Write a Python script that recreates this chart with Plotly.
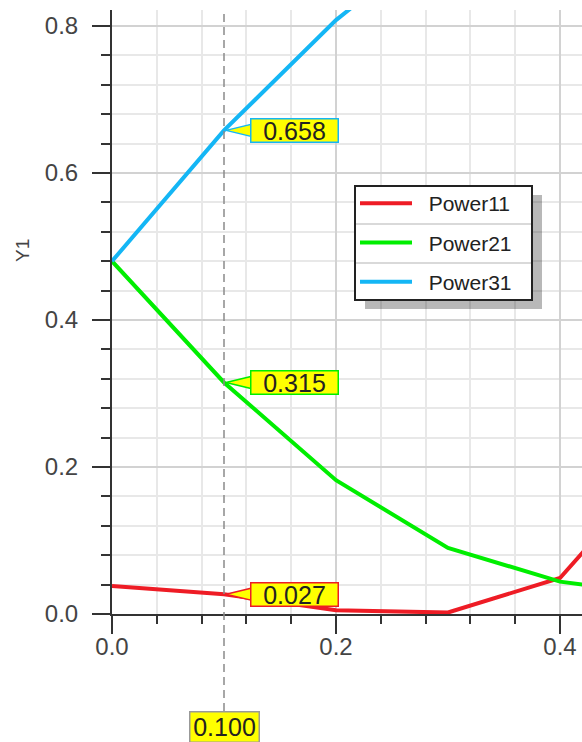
import numpy as np
import plotly.graph_objects as go

# ---- data ----
x_vals = [0.0, 0.1, 0.2, 0.3, 0.4, 0.5]
power11 = [0.038, 0.027, 0.005, 0.002, 0.049, 0.22]
power21 = [0.480, 0.315, 0.182, 0.090, 0.044, 0.025]
power31 = [0.480, 0.658, 0.808, 0.930, 1.030, 1.120]
series_names = ["Power11", "Power21", "Power31"]
cross_x = 0.1
x_ticks = [0.0, 0.2, 0.4]
y_ticks = [0.0, 0.2, 0.4, 0.6, 0.8]

colors = ["#ee1c25", "#00ee00", "#14b6f5"]
series = [power11, power21, power31]

W, H = 582, 742
# plot area in screen pixels
PX0, PX1, PY0, PY1 = 112, 582, 10, 614
ML, MT = PX0, PY0
MR = W - PX1
MB = H - PY1
PW, PH = PX1 - PX0, PY1 - PY0

def px_x(p):
    return (p - PX0) / PW

def px_y(p):
    return (PY1 - p) / PH

FONT = "Liberation Sans"

fig = go.Figure()
for i, (name, ys, c) in enumerate(zip(series_names, series, colors)):
    fig.add_trace(go.Scatter(x=x_vals, y=ys, mode="lines", name="\u00a0\u00a0" + name,
                             legendgroup=f"g{i}", hoverinfo="skip",
                             line=dict(color=c, width=4)))

shapes = []
annotations = []

# crosshair
shapes.append(dict(type="line", xref="x", yref="paper", x0=cross_x, x1=cross_x,
                   y0=px_y(711), y1=1, line=dict(color="#8a8a8a", width=1.5, dash="8px,5px"),
                   layer="above"))

# value labels at crosshair
for ys, c in zip(series, colors):
    v = float(np.interp(cross_x, x_vals, ys))
    shapes.append(dict(type="path", xref="x", yref="y", xsizemode="pixel", ysizemode="pixel",
                       xanchor=cross_x, yanchor=v,
                       path="M 2,0 L 27,-6 L 27,6 Z",
                       fillcolor="#ffff00", line=dict(color=c, width=1.5), layer="above"))
    annotations.append(dict(x=cross_x, y=v, xref="x", yref="y", text=f"{v:.3f}",
                            showarrow=False, xanchor="left", yanchor="middle", xshift=26,
                            bgcolor="#ffff00", bordercolor=c, borderwidth=1.5, borderpad=1,
                            width=84, height=20,
                            font=dict(family=FONT, size=25, color="#222222")))

# x crosshair label
annotations.append(dict(x=cross_x, y=px_y(727), xref="x", yref="paper", text=f"{cross_x:.3f}",
                        showarrow=False, xanchor="center", yanchor="middle",
                        bgcolor="#ffff00", bordercolor="#999999", borderwidth=1.5, borderpad=1,
                        width=66, height=27,
                        font=dict(family=FONT, size=25, color="#222222")))

# y title
annotations.append(dict(x=px_x(22), y=px_y(251), xref="paper", yref="paper", text="Y1",
                        showarrow=False, textangle=-90, xanchor="center", yanchor="middle",
                        font=dict(family=FONT, size=19, color="#444444")))

# legend box decorations
lx0, lx1, ly0, ly1 = 355, 532, 186, 300
shapes.append(dict(type="rect", xref="paper", yref="paper",
                   x0=px_x(lx0 + 10), x1=px_x(lx1 + 10), y0=px_y(ly1 + 9), y1=px_y(ly0 + 9),
                   fillcolor="rgba(0,0,0,0.28)", line=dict(width=0), layer="above"))
shapes.append(dict(type="rect", xref="paper", yref="paper",
                   x0=px_x(lx0), x1=px_x(lx1), y0=px_y(ly1), y1=px_y(ly0),
                   fillcolor="white", line=dict(color="#222222", width=2), layer="above"))
for sy in (224, 263):
    shapes.append(dict(type="line", xref="paper", yref="paper",
                       x0=px_x(lx0 + 1), x1=px_x(lx1 - 1), y0=px_y(sy), y1=px_y(sy),
                       line=dict(color="#cccccc", width=1.5), layer="above"))

axis_common = dict(
    showline=True, linecolor="#333333", linewidth=2,
    ticks="outside", tickcolor="#333333", tickwidth=2,
    showgrid=True, gridcolor="#d2d2d2", gridwidth=1.5,
    zeroline=False, tickformat=".1f",
    tickfont=dict(family=FONT, size=24, color="#444444"),
    mirror=False,
)

fig.update_layout(
    width=W, height=H,
    margin=dict(l=ML, r=MR, t=MT, b=MB, pad=0),
    paper_bgcolor="white", plot_bgcolor="white",
    showlegend=True, hovermode=False,
    legend=dict(x=px_x(lx0), y=px_y(ly0 - 3), xanchor="left", yanchor="top",
                bgcolor="rgba(0,0,0,0)", borderwidth=0, itemwidth=52,
                traceorder="grouped", tracegroupgap=9,
                font=dict(family=FONT, size=21, color="#222222")),
    xaxis=dict(range=[0, PW / 1120.0], tickvals=x_ticks, ticklen=18,
               ticklabelstandoff=-8,
               minor=dict(dtick=0.04, tick0=0, ticklen=8, tickcolor="#333333", tickwidth=2,
                          showgrid=True, gridcolor="#e8e8e8", gridwidth=1.5),
               **axis_common),
    yaxis=dict(range=[0, PH / 735.0], tickvals=y_ticks, ticklen=18,
               ticklabelstandoff=9,
               minor=dict(dtick=0.04, tick0=0, ticklen=9, tickcolor="#333333", tickwidth=2,
                          showgrid=True, gridcolor="#e8e8e8", gridwidth=1.5),
               **axis_common),
    shapes=shapes,
    annotations=annotations,
)

fig.write_html(
    "out.html",
    config={"displayModeBar": False},
    post_script="document.body.style.margin='0';"
                "document.body.style.overflow='hidden';"
                "document.documentElement.style.overflow='hidden';",
)
